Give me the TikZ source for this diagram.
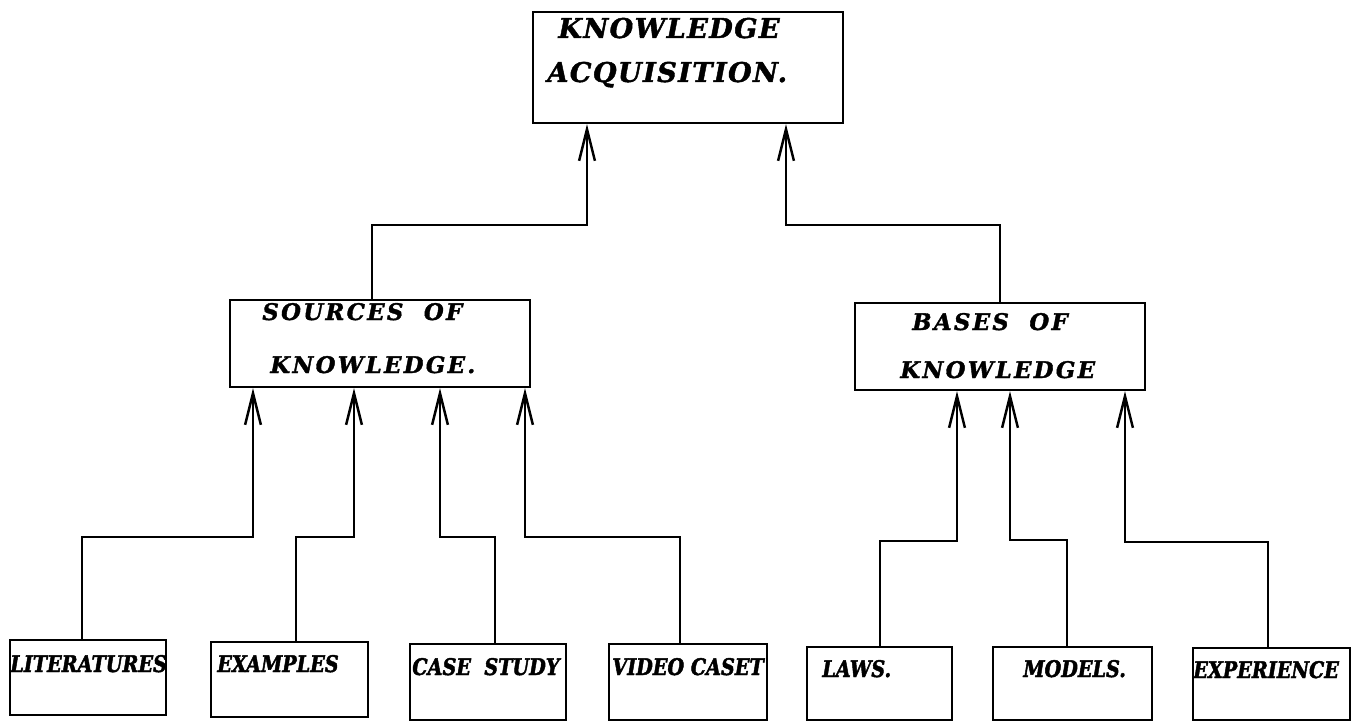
\documentclass[tikz,border=0pt]{standalone}
\usepackage{fontspec}
\newfontfamily\bigboxfont[LetterSpace=5, FakeBold=1.6]{DejaVu Serif}
\newfontfamily\midboxfont[LetterSpace=10, FakeBold=1.6]{DejaVu Serif}
\newfontfamily\smallboxfont[FakeStretch=0.84, FakeBold=2]{DejaVu Serif}
\usetikzlibrary{arrows.meta}

\tikzset{
    box/.style={draw, line width=1.3pt, inner sep=0pt},
    bigtext/.style={anchor=base west, inner sep=0pt,
        font=\bigboxfont\bfseries\itshape\fontsize{15.5}{19}\selectfont},
    midtext/.style={anchor=base west, inner sep=0pt,
        font=\midboxfont\bfseries\itshape\fontsize{13}{16}\selectfont},
    smalltext/.style={anchor=base west, inner sep=0pt,
        font=\smallboxfont\bfseries\itshape\fontsize{13}{16}\selectfont},
    conn/.style={line width=1.4pt,
        -{Straight Barb[length=18pt,width=9pt,line width=1.4pt]}}
}

\begin{document}
\begin{tikzpicture}[x=0.02cm, y=-0.02cm]
    \useasboundingbox (0,0) rectangle (1366,723);

    % Box principale
    \node[box, minimum width=6.2cm, minimum height=2.22cm] (ka) at (688,67.5) {};
    \node[bigtext] (ka-t1) at (558,38) {KNOWLEDGE};
    \node[bigtext] (ka-t2) at (547,82) {ACQUISITION.};

    % Secondo livello
    \node[box, minimum width=6.0cm, minimum height=1.74cm] (src) at (380,343.5) {};
    \node[midtext] (src-t1) at (262,320) {SOURCES~ OF};
    \node[midtext] (src-t2) at (270,373) {KNOWLEDGE.};

    \node[box, minimum width=5.8cm, minimum height=1.74cm] (bas) at (1000,346.5) {};
    \node[midtext] (bas-t1) at (912,330) {BASES~ OF};
    \node[midtext] (bas-t2) at (900,378) {KNOWLEDGE};

    % Foglie
    \node[box, minimum width=3.12cm, minimum height=1.5cm] (lit) at (88,677.5) {};
    \node[box, minimum width=3.14cm, minimum height=1.5cm] (exa) at (289.5,679.5) {};
    \node[box, minimum width=3.12cm, minimum height=1.52cm] (cas) at (488,682) {};
    \node[box, minimum width=3.16cm, minimum height=1.52cm] (vid) at (688,682) {};
    \node[box, minimum width=2.9cm, minimum height=1.46cm] (law) at (879.5,683.5) {};
    \node[box, minimum width=3.18cm, minimum height=1.46cm] (mod) at (1072.5,683.5) {};
    \node[box, minimum width=3.14cm, minimum height=1.44cm] (exp) at (1271.5,684) {};

    \node[smalltext] (lit-t) at (10,672) {LITERATURES};
    \node[smalltext] (exa-t) at (217,672) {EXAMPLES};
    \node[smalltext] (cas-t) at (412,675) {CASE~ STUDY};
    \node[smalltext] (vid-t) at (612,675) {VIDEO CASET};
    \node[smalltext] (law-t) at (822,677) {LAWS.};
    \node[smalltext] (mod-t) at (1023,677) {MODELS.};
    \node[smalltext] (exp-t) at (1193,678) {EXPERIENCE};

    % Collegamenti verso l'alto
    \draw[conn] (src.north -| 372,0) -- (372,225) -| (ka.south -| 587,0);
    \draw[conn] (bas.north) -- (1000,225) -| (ka.south -| 786,0);

    \draw[conn] (lit.north -| 82,0) -- (82,537) -| (src.south -| 253,0);
    \draw[conn] (exa.north -| 296,0) -- (296,537) -| (src.south -| 354,0);
    \draw[conn] (cas.north -| 495,0) -- (495,537) -| (src.south -| 440,0);
    \draw[conn] (vid.north -| 680,0) -- (680,537) -| (src.south -| 525,0);

    \draw[conn] (law.north -| 880,0) -- (880,541) -| (bas.south -| 957,0);
    \draw[conn] (mod.north -| 1067,0) -- (1067,540) -| (bas.south -| 1010,0);
    \draw[conn] (exp.north -| 1268,0) -- (1268,542) -| (bas.south -| 1125,0);
\end{tikzpicture}
\end{document}
